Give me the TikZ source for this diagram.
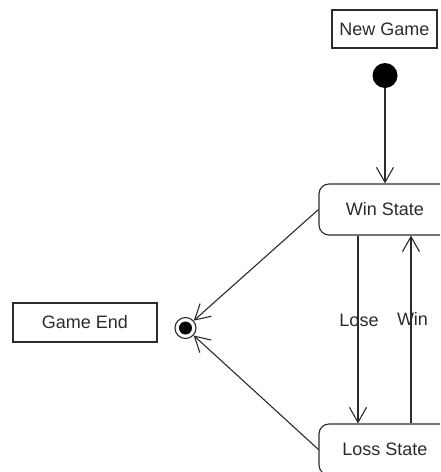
\documentclass[tikz,border=0pt]{standalone}
\usepackage{fontspec}
\setmainfont{Liberation Sans}
\usetikzlibrary{arrows.meta}
\definecolor{ink}{HTML}{2B2B2B}
\tikzset{
  every node/.style={font=\fontsize{18}{21}\selectfont, text=ink},
  notebox/.style={draw=ink, line width=1.1pt, inner sep=0pt},
  statebox/.style={draw=ink, line width=1.1pt, rounded corners=10pt,
    minimum width=132pt, minimum height=51pt, inner sep=0pt},
  flow/.style={draw=ink, line width=1.1pt,
    -{Straight Barb[length=15pt,width=17pt,line width=1.1pt]}},
  translabel/.style={fill=none, inner sep=0pt}
}
\begin{document}
\begin{tikzpicture}[x=1pt, y=-1pt]
  \useasboundingbox (0,0) rectangle (440,472);
  \clip (0,0) rectangle (440,472);

  % notes
  \node[notebox, minimum width=105pt, minimum height=38pt] (newgame) at (384.5,29) {New Game};
  \node[notebox, minimum width=144pt, minimum height=39pt] (gameend) at (85,322.5) {Game End};

  % initial and final pseudo-states
  \node[circle, fill=black, minimum size=25pt, inner sep=0pt] (init) at (385,75.5) {};
  \node[circle, draw=ink, line width=1.1pt, minimum size=21pt, inner sep=0pt] (final) at (185.5,328) {};
  \node[circle, fill=black, minimum size=13pt, inner sep=0pt] (finaldot) at (final.center) {};

  % states
  \node[statebox] (win) at (385,209.5) {Win State};
  \node[statebox] (loss) at (385,449.5) {Loss State};

  % transitions
  \draw[flow] (init) -- (win.north);
  \draw[flow] ([xshift=-27pt]win.south) -- ([xshift=-27pt]loss.north);
  \draw[flow] ([xshift=26pt]loss.north) -- ([xshift=26pt]win.south);
  \draw[flow] (win.west) -- (final);
  \draw[flow] (loss.west) -- (final);

  % transition labels
  \node[translabel] (loselabel) at (359,320) {Lose};
  \node[translabel] (winlabel) at (412.5,319) {Win};
\end{tikzpicture}
\end{document}
